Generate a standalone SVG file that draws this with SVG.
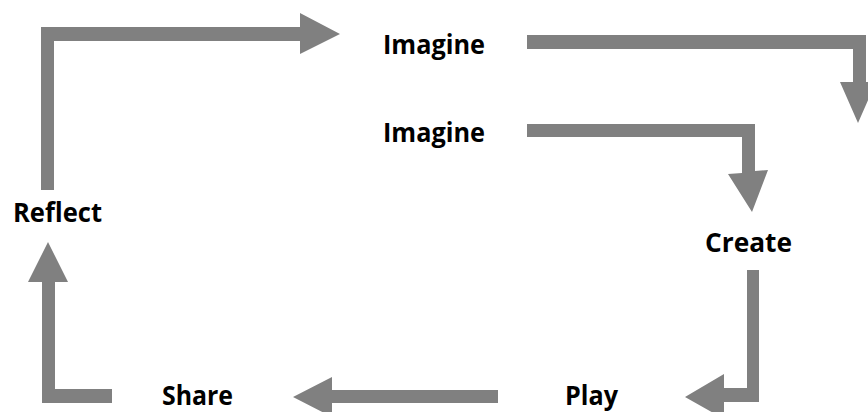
<svg xmlns="http://www.w3.org/2000/svg" width="868" height="412" viewBox="0 0 868 412">
<style>
.arr{fill:#808080;stroke:none}
.lbl{font-family:"Open Sans","Liberation Sans",sans-serif;font-weight:bold;font-size:26px;fill:#000}
</style>
<rect width="868" height="412" fill="#fff"/>
<g id="connectors">
<polygon class="arr" points="41,190 41,27 300,27 300,13 340,34 300,54 300,41 54,41 54,190"/>
<polygon class="arr" points="527,35 866,35 866,82 876,82 858,123 840,82 853,82 853,49 527,49"/>
<polygon class="arr" points="527,124 755,124 755,171 768,170 752,212 728,174 742,173 742,137 527,137"/>
<polygon class="arr" points="747,270 759,270 759,402 724,402 724,419 685,397 724,374 724,388 747,388"/>
<polygon class="arr" points="498,390 498,403 332,403 332,417 293,397 332,377 332,390"/>
<polygon class="arr" points="112,389 55,389 55,282 68,282 48,242 28,282 42,282 42,403 112,403"/>
</g>
<g id="imagine1"><text class="lbl" x="383" y="54" textLength="102" lengthAdjust="spacingAndGlyphs">Imagine</text></g>
<g id="imagine2"><text class="lbl" x="383" y="142" textLength="102" lengthAdjust="spacingAndGlyphs">Imagine</text></g>
<g id="reflect"><text class="lbl" x="13" y="222" textLength="89" lengthAdjust="spacingAndGlyphs">Reflect</text></g>
<g id="create"><text class="lbl" x="705" y="252" textLength="87" lengthAdjust="spacingAndGlyphs">Create</text></g>
<g id="share"><text class="lbl" x="162" y="405" textLength="71" lengthAdjust="spacingAndGlyphs">Share</text></g>
<g id="play"><text class="lbl" x="565" y="405" textLength="53" lengthAdjust="spacingAndGlyphs">Play</text></g>
</svg>
